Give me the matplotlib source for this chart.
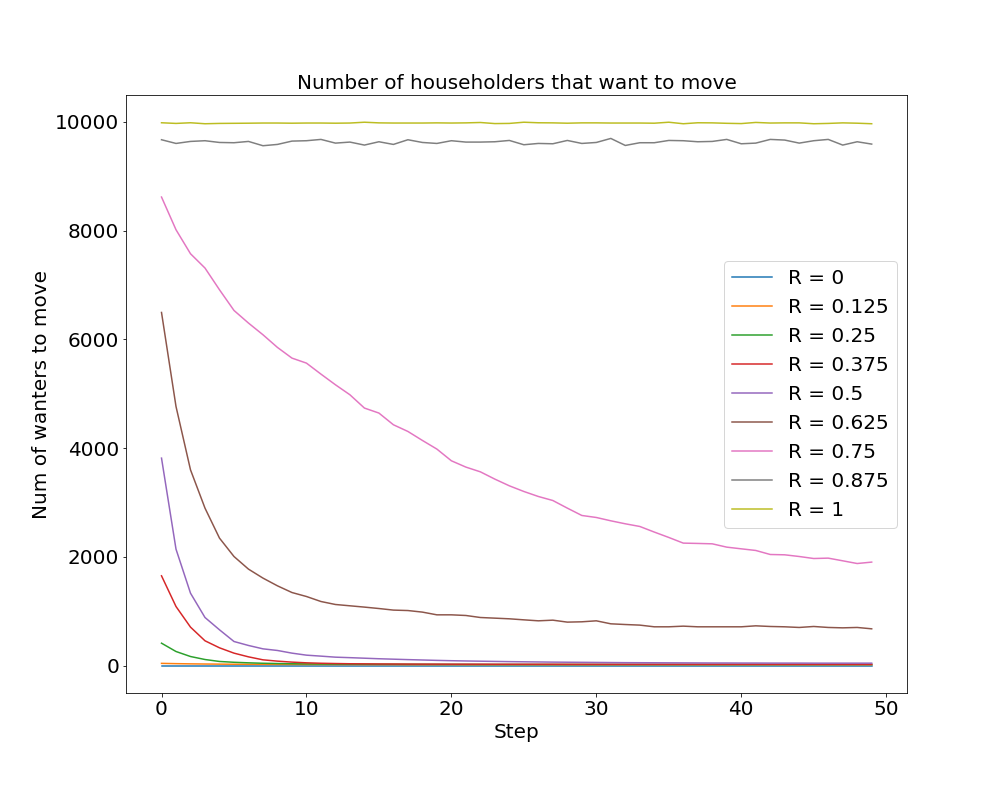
import numpy as np
import matplotlib
matplotlib.use("Agg")
import matplotlib.pyplot as plt

steps = np.arange(50)
r_values = ["0", "0.125", "0.25", "0.375", "0.5", "0.625", "0.75", "0.875", "1"]

# values
r_0 = [0] * 50
r_0125 = [45, 40, 36, 33, 31, 29, 28, 27, 26, 25,
          24, 24, 23, 23, 22, 22, 22, 21, 21, 21,
          21, 20, 20, 20, 20, 20, 20, 20, 20, 20,
          20, 20, 20, 20, 20, 20, 20, 20, 20, 20,
          20, 20, 20, 20, 20, 20, 20, 20, 20, 20]
r_025 = [416, 263, 171, 116, 80, 65, 55, 47, 42, 38,
         35, 33, 31, 30, 29, 28, 28, 27, 27, 26,
         26, 26, 25, 25, 25, 25, 25, 25, 25, 25,
         25, 25, 25, 25, 25, 25, 25, 25, 25, 25,
         25, 25, 25, 25, 25, 25, 25, 25, 25, 25]
r_0375 = [1654, 1090, 711, 460, 331, 233, 165, 110, 86, 68,
          55, 47, 42, 38, 36, 34, 33, 32, 31, 31,
          30, 30, 30, 29, 29, 29, 29, 29, 28, 28,
          28, 28, 28, 28, 28, 28, 28, 28, 28, 28,
          28, 28, 28, 28, 28, 28, 28, 28, 28, 28]
r_05 = [3817, 2144, 1335, 888, 662, 447, 374, 312, 282, 233,
        196, 178, 159, 150, 140, 130, 122, 114, 107, 100,
        94, 89, 85, 81, 77, 74, 71, 68, 66, 64,
        62, 60, 58, 57, 56, 55, 54, 53, 52, 52,
        51, 51, 50, 50, 50, 49, 49, 49, 49, 49]
r_0625 = [6494, 4766, 3602, 2898, 2347, 2009, 1777, 1612, 1470, 1347,
          1274, 1182, 1127, 1103, 1079, 1053, 1024, 1016, 987, 937,
          937, 925, 888, 876, 864, 845, 827, 839, 803, 809,
          827, 772, 759, 748, 717, 717, 729, 717, 717, 717,
          717, 735, 723, 717, 705, 723, 705, 698, 705, 680]
r_075 = [8615, 8014, 7573, 7310, 6911, 6531, 6299, 6084, 5851, 5655,
         5563, 5361, 5165, 4981, 4737, 4645, 4430, 4307, 4142, 3983,
         3768, 3652, 3565, 3431, 3308, 3204, 3112, 3038, 2898, 2763,
         2726, 2665, 2610, 2561, 2458, 2359, 2255, 2249, 2242, 2181,
         2150, 2120, 2046, 2040, 2009, 1972, 1979, 1930, 1880, 1906]
r_0875 = [9668, 9600, 9637, 9650, 9618, 9613, 9637, 9558, 9582, 9643,
          9650, 9674, 9606, 9625, 9570, 9631, 9582, 9668, 9618, 9600,
          9650, 9625, 9625, 9631, 9655, 9576, 9600, 9594, 9655, 9600,
          9618, 9692, 9563, 9613, 9613, 9655, 9650, 9631, 9637, 9674,
          9594, 9606, 9674, 9662, 9606, 9650, 9674, 9570, 9631, 9588]
r_1 = [9980, 9968, 9980, 9962, 9968, 9970, 9972, 9975, 9975, 9972,
       9975, 9975, 9972, 9975, 9990, 9978, 9975, 9975, 9975, 9978,
       9975, 9978, 9985, 9965, 9968, 9990, 9980, 9978, 9972, 9978,
       9978, 9975, 9975, 9975, 9972, 9990, 9962, 9980, 9978, 9970,
       9965, 9986, 9975, 9978, 9978, 9962, 9968, 9978, 9972, 9962]

series = [r_0, r_0125, r_025, r_0375, r_05, r_0625, r_075, r_0875, r_1]

fig = plt.figure(figsize=(14, 11), dpi=72)
ax = fig.add_axes([0.125, 0.125, 0.775, 0.755])

for r, vals in zip(r_values, series):
    ax.plot(steps, vals, label=f"R = {r}")

ax.set_title("Number of householders that want to move", fontsize=20)
ax.set_xlabel("Step", fontsize=20)
ax.set_ylabel("Num of wanters to move", fontsize=20)
ax.tick_params(labelsize=20)
ax.legend(loc="center right", fontsize=20)

fig.savefig("out.png", dpi=72)
